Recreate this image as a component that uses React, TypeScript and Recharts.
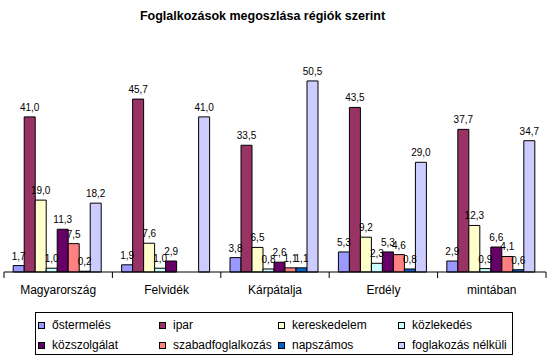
import React from 'react';
import { BarChart, Bar, XAxis, YAxis, LabelList } from 'recharts';

const categories = ['Magyarország', 'Felvidék', 'Kárpátalja', 'Erdély', 'mintában'];

const seriesNames = [
  'őstermelés',
  'ipar',
  'kereskedelem',
  'közlekedés',
  'közszolgálat',
  'szabadfoglalkozás',
  'napszámos',
  'foglakozás nélküli',
];

const seriesColors = ['#9999FF', '#993366', '#FFFFCC', '#CCFFFF', '#660066', '#FF8080', '#0066CC', '#CCCCFF'];

const ostermeles = [1.7, 1.9, 3.8, 5.3, 2.9];
const ipar = [41.0, 45.7, 33.5, 43.5, 37.7];
const kereskedelem = [19.0, 7.6, 6.5, 9.2, 12.3];
const kozlekedes = [1.0, 1.0, 0.8, 2.3, 0.9];
const kozszolgalat = [11.3, 2.9, 2.6, 5.3, 6.6];
const szabadfoglalkozas = [7.5, null, 1.1, 4.6, 4.1];
const napszamos = [0.2, null, 1.1, 0.8, 0.6];
const nelkuli = [18.2, 41.0, 50.5, 29.0, 34.7];

const seriesValues = [ostermeles, ipar, kereskedelem, kozlekedes, kozszolgalat, szabadfoglalkozas, napszamos, nelkuli];

const data = categories.map((name, i) => {
  const row: Record<string, any> = { name };
  seriesNames.forEach((s, j) => {
    row[s] = seriesValues[j][i];
  });
  return row;
});

const font = '"Liberation Sans", Arial, sans-serif';

const fmt = (v: any) => (v === null || v === undefined ? '' : Number(v).toFixed(1).replace('.', ','));

const W = 549;
const H = 361;
const margin = { top: 45, right: 3, left: 4, bottom: 59 };
const halfBand = (W - margin.left - margin.right) / categories.length / 2;

// category label plus tick marks on the category boundaries (Excel style)
const CatTick = (props: any) => {
  const { x, y, payload, index } = props;
  const last = index === categories.length - 1;
  return (
    <g>
      <line x1={x - halfBand} x2={x - halfBand} y1={y} y2={y + 6} stroke="#000" />
      {last && <line x1={x + halfBand} x2={x + halfBand} y1={y} y2={y + 6} stroke="#000" />}
      <text x={x} y={y + 22} textAnchor="middle" fontSize={12} fontFamily={font} fill="#000">
        {payload.value}
      </text>
    </g>
  );
};

// legend column offsets inside the box
const legendCols = [2, 123, 242, 362];

const App: React.FC = () => {
  return (
    <div style={{ position: 'absolute', left: 0, top: 0, width: W, height: H, fontFamily: font }}>
      <div
        style={{
          position: 'absolute',
          left: 0,
          top: 9,
          width: 525,
          textAlign: 'center',
          fontSize: 12.5,
          fontWeight: 'bold',
          color: '#000',
        }}
      >
        Foglalkozások megoszlása régiók szerint
      </div>
      <BarChart width={W} height={H} data={data} margin={margin} barCategoryGap="8.5%" barGap={0}>
        <XAxis
          dataKey="name"
          height={30}
          axisLine={{ stroke: '#000' }}
          tickLine={false}
          tickSize={0}
          tickMargin={0}
          interval={0}
          tick={<CatTick />}
        />
        <YAxis hide domain={[0, 60]} />
        {seriesNames.map((s, j) => (
          <Bar
            key={s}
            dataKey={s}
            fill={seriesColors[j]}
            stroke="#000"
            strokeWidth={1}
            isAnimationActive={false}
          >
            <LabelList
              dataKey={s}
              position="top"
              offset={6}
              formatter={fmt}
              style={{ fill: '#000', fontSize: 10, fontFamily: font }}
            />
          </Bar>
        ))}
      </BarChart>
      <div
        style={{
          position: 'absolute',
          left: 35,
          top: 312,
          width: 478,
          height: 43,
          border: '1px solid #000',
          boxSizing: 'border-box',
        }}
      >
        {seriesNames.map((s, j) => (
          <div
            key={s}
            style={{
              position: 'absolute',
              left: legendCols[j % 4],
              top: j < 4 ? 4 : 24,
              height: 16,
              display: 'flex',
              alignItems: 'center',
              fontSize: 12,
              whiteSpace: 'nowrap',
              color: '#000',
            }}
          >
            <span
              style={{
                display: 'inline-block',
                width: 5,
                height: 5,
                border: '1px solid #000',
                background: seriesColors[j],
                marginRight: 7,
              }}
            />
            {s}
          </div>
        ))}
      </div>
    </div>
  );
};

export default App;
